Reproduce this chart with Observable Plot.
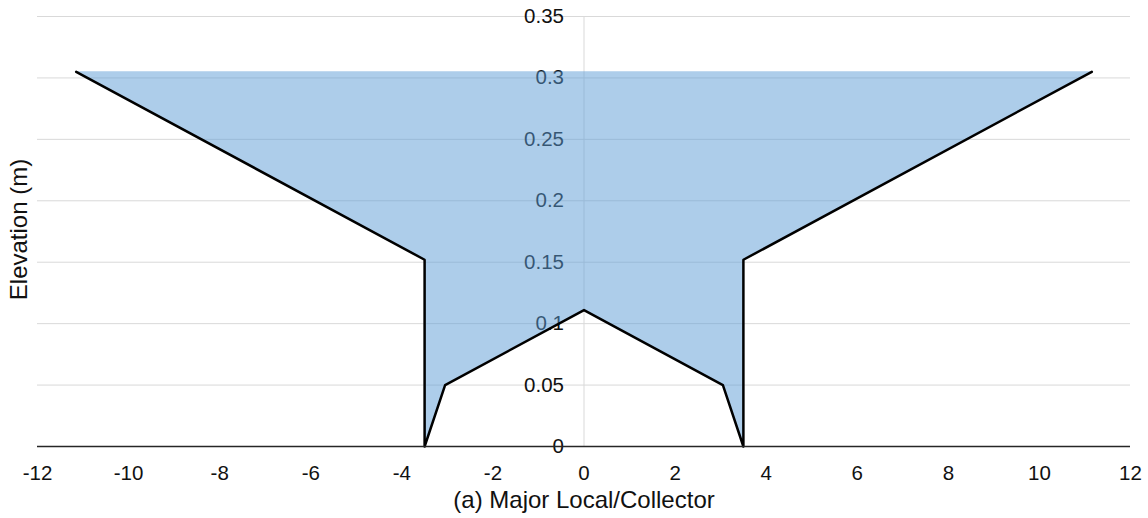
<!DOCTYPE html>
<html>
<head>
<meta charset="utf-8">
<script src="https://cdn.jsdelivr.net/npm/d3@7"></script>
<script src="https://cdn.jsdelivr.net/npm/@observablehq/plot@0.6"></script>
<style>
  html, body { margin: 0; padding: 0; background: #fff; }
  #chart svg { display: block; }
</style>
</head>
<body>
<div id="chart"></div>
<script>
// Cross-section profile: offset from centreline (m) and elevation (m)
const offsets    = [-11.15, -3.5, -3.5, -3.05, 0, 3.05, 3.5, 3.5, 11.15];
const elevations = [0.305, 0.152, 0, 0.05, 0.111, 0.05, 0, 0.152, 0.305];
const topElevation = 0.305;

// Axis ticks and their labels
const xTicks = [-12, -10, -8, -6, -4, -2, 0, 2, 4, 6, 8, 10, 12];
const yTicks = [0, 0.05, 0.1, 0.15, 0.2, 0.25, 0.3, 0.35];
const yTickLabels = ["0", "0.05", "0.1", "0.15", "0.2", "0.25", "0.3", "0.35"];

const xTitle = "(a) Major Local/Collector";
const yTitle = "Elevation (m)";

const profile = offsets.map((x, i) => ({x, y: elevations[i]}));
const yLabelRows = yTicks.map((v, i) => ({v, label: yTickLabels[i]}));

const tickFont = 20.5;
const titleFont = 24;

const chart = Plot.plot({
  width: 1148,
  height: 518,
  marginLeft: 37,
  marginRight: 18,
  marginTop: 16,
  marginBottom: 72,
  style: {fontFamily: "'Liberation Sans', Arial, sans-serif", color: "#111", background: "#fff"},
  x: {domain: [-12, 12], axis: null},
  y: {domain: [0, 0.35], axis: null},
  marks: [
    // horizontal gridlines
    Plot.ruleY(yTicks.filter(d => d > 0), {stroke: "#d9d9d9", strokeWidth: 1}),
    // vertical axis line through x = 0
    Plot.ruleX([0], {y1: 0, y2: 0.35, stroke: "#d9d9d9", strokeWidth: 1}),
    // y tick labels beside the centre axis
    Plot.text(yLabelRows, {x: 0, y: "v", text: "label", dx: -20, textAnchor: "end", fontSize: tickFont, fill: "#111"}),
    // filled cross-section between the surface profile and the top elevation
    Plot.areaY(profile, {x: "x", y1: "y", y2: () => topElevation, fill: "#5b9bd5", fillOpacity: 0.5, curve: "linear"}),
    // surface profile outline
    Plot.line(profile, {x: "x", y: "y", stroke: "#000", strokeWidth: 2.5, curve: "linear"}),
    // horizontal axis line
    Plot.ruleY([0], {stroke: "#262626", strokeWidth: 1.3}),
    // x tick labels
    Plot.text(xTicks, {x: d => d, y: 0, text: d => String(d), dy: 27, fontSize: tickFont, fill: "#111"}),
    // axis titles
    Plot.text([xTitle], {x: 0, y: 0, dy: 54, fontSize: titleFont, fill: "#111"}),
    Plot.text([yTitle], {frameAnchor: "left", textAnchor: "middle", dx: -18, dy: -2, rotate: -90, fontSize: titleFont, fill: "#111"})
  ]
});

document.getElementById("chart").append(chart);
</script>
</body>
</html>
